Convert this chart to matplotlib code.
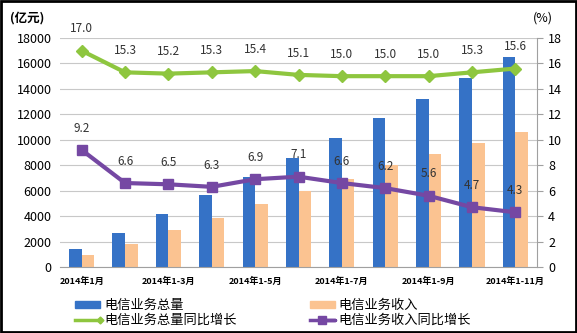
import matplotlib.pyplot as plt
import numpy as np
from matplotlib.patches import Rectangle

plt.rcParams['font.family'] = ['Noto Sans CJK SC', 'DejaVu Sans']

months = ["2014年1月", "2014年1-2月", "2014年1-3月", "2014年1-4月", "2014年1-5月", "2014年1-6月",
          "2014年1-7月", "2014年1-8月", "2014年1-9月", "2014年1-10月", "2014年1-11月"]
total_volume = [1390, 2700, 4160, 5630, 7100, 8600, 10110, 11690, 13200, 14880, 16480]
total_income = [940, 1830, 2910, 3880, 4970, 6000, 6920, 8020, 8860, 9770, 10640]
volume_growth = [17.0, 15.3, 15.2, 15.3, 15.4, 15.1, 15.0, 15.0, 15.0, 15.3, 15.6]
income_growth = [9.2, 6.6, 6.5, 6.3, 6.9, 7.1, 6.6, 6.2, 5.6, 4.7, 4.3]

blue = "#3572c6"
orange = "#fbc391"
green = "#8ec63f"
purple = "#7548a3"

fig = plt.figure(figsize=(5.77, 3.33), dpi=100)
ax = fig.add_axes([60 / 577, 1 - 267 / 333, 477 / 577, 229 / 333])
ax2 = ax.twinx()

x = np.arange(len(months))
w = 0.29
ax.bar(x - w / 2, total_volume, w, color=blue, zorder=2)
ax.bar(x + w / 2, total_income, w, color=orange, zorder=2)

ax.set_xlim(-0.5, len(months) - 0.5)
ax.set_ylim(0, 18000)
ax.set_yticks(np.arange(0, 18001, 2000))
ax.yaxis.grid(True, color="#c8c8c8", lw=0.8, zorder=0)
ax.set_axisbelow(True)
ax.tick_params(axis="y", length=0, labelsize=9, pad=6)
ax.tick_params(axis="x", length=0, labelsize=6.5, pad=7)
ax.set_xticks(x[::2])
ax.set_xticklabels(months[::2], fontweight="bold")
for s in ["top", "left", "right"]:
    ax.spines[s].set_visible(False)
ax.spines["bottom"].set_color("#a0a0a0")

ax2.plot(x, volume_growth, color=green, lw=3, marker="D", ms=6, zorder=4)
ax2.plot(x, income_growth, color=purple, lw=3, marker="s", ms=7, zorder=4)
for i in x:
    ax2.annotate(f"{volume_growth[i]:.1f}", (i, volume_growth[i]), xytext=(0, 11),
                 textcoords="offset points", ha="center", va="bottom", fontsize=8.5, color="#333333")
    ax2.annotate(f"{income_growth[i]:.1f}", (i, income_growth[i]), xytext=(0, 11),
                 textcoords="offset points", ha="center", va="bottom", fontsize=8.5, color="#333333")
ax2.set_ylim(0, 18)
ax2.set_yticks(np.arange(0, 19, 2))
ax2.tick_params(axis="y", labelsize=9, length=4, color="#a0a0a0", pad=4)
for s in ["top", "left", "bottom"]:
    ax2.spines[s].set_visible(False)
ax2.spines["right"].set_color("#a0a0a0")

fig.text(10 / 577, 1 - 18 / 333, "(亿元)", fontsize=9, va="center", fontweight="bold")
fig.text(533 / 577, 1 - 18 / 333, "(%)", fontsize=9, va="center")

# legend
fig.patches.append(Rectangle((75 / 577, 1 - 308 / 333), 25 / 577, 7 / 333, color=blue, transform=fig.transFigure))
fig.text(104 / 577, 1 - 305 / 333, "电信业务总量", fontsize=9.5, va="center")
fig.patches.append(Rectangle((310 / 577, 1 - 308 / 333), 25 / 577, 7 / 333, color=orange, transform=fig.transFigure))
fig.text(338 / 577, 1 - 305 / 333, "电信业务收入", fontsize=9.5, va="center")
fig.lines.append(plt.Line2D([75 / 577, 100 / 577], [1 - 320 / 333] * 2, color=green, lw=2.5,
                            marker="D", ms=3.5, markevery=[1], transform=fig.transFigure))
fig.text(104 / 577, 1 - 320 / 333, "电信业务总量同比增长", fontsize=9.5, va="center")
fig.lines.append(plt.Line2D([310 / 577, 335 / 577, 322.5 / 577], [1 - 320 / 333] * 3, color=purple, lw=2.5,
                            marker="s", ms=6, markevery=[2], transform=fig.transFigure))
fig.text(338 / 577, 1 - 320 / 333, "电信业务收入同比增长", fontsize=9.5, va="center")

fig.patches.append(Rectangle((0.002, 0.003), 0.996, 0.994, fill=False, ec="black", lw=2,
                             transform=fig.transFigure))

fig.savefig("out.png", dpi=100)
